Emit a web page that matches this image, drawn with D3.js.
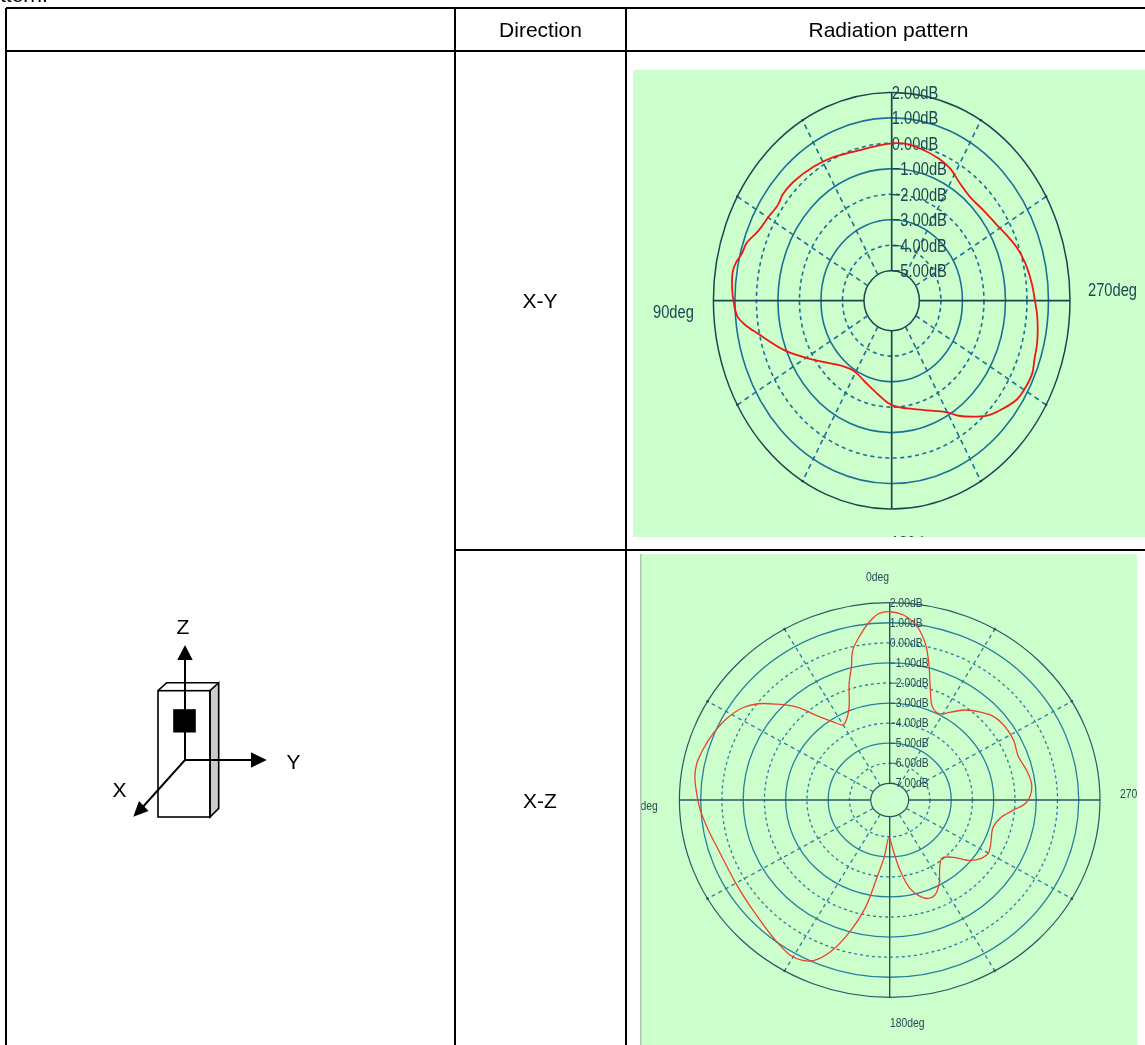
<!DOCTYPE html>
<html>
<head>
<meta charset="utf-8">
<style>
  html, body { margin: 0; background: #fff; }
  svg { display: block; font-family: "Liberation Sans", Arial, sans-serif; }
</style>
</head>
<body>
<div id="chart"></div>
<script src="https://cdn.jsdelivr.net/npm/d3@7"></script>
<script>
// Daten: Winkel in Grad, Pegel in dB
const xyAngles = [0,9,17,25,34,44,50,54,60,66,71,75,78,81,86,90,95,98,102,112,124,140,149,159,171,180,195,210,214,224,229,236,241,246,251,256,265,270,276,284,290,296,302,310,319,326,333,339,348,355];
const xyGains = [0,-0.08,-0.07,0.05,0.18,0.3,0.32,0.24,0.35,0.52,0.83,0.93,1.1,1.19,1.15,1.07,0.91,0.6,0.06,-0.95,-2,-2.81,-2.94,-2.78,-2.43,-2.08,-1.76,-1.12,-0.73,0.09,0.38,0.74,0.83,0.86,0.74,0.68,0.5,0.37,0.26,0.09,-0.09,-0.33,-0.54,-0.69,-0.76,-0.62,-0.34,-0.2,-0.06,0.02];
const xzAngles = [0,3,6,9,13,15,18,22,26,30,34,39,43,48,52,56,62,68,74,79,83,88,93,100,107,121,132,142,149,153,156,160,164,168,171,175,179,184,188,192,196,200,204,209,215,220,226,231,236,240,245,254,260,265,269,276,283,290,297,304,311,316,322,327,332,337,341,345,348,352,356];
const xzGains = [1.55,1.48,1.11,0.59,-0.17,-0.94,-1.72,-2.8,-3.3,-3.51,-3.13,-2.4,-1.5,-0.69,-0.04,0.41,0.8,1.05,1.25,1.37,1.34,1.19,1.04,0.77,0.55,0.47,0.62,0.94,1.19,1.14,0.93,0.2,-0.94,-2.31,-3.8,-5,-5.97,-5.25,-4.23,-3.33,-2.86,-2.61,-2.65,-3.09,-3.79,-4.06,-3.71,-3.05,-2.66,-2.53,-2.65,-2.84,-2.62,-2.05,-1.45,-1.17,-1.28,-1.46,-1.34,-1.33,-1.46,-1.74,-2.14,-2.61,-2.96,-2.77,-2.02,-0.78,0.15,0.98,1.41];
const xyTicks = [2,1,0,-1,-2,-3,-4,-5];
const xzTicks = [2,1,0,-1,-2,-3,-4,-5,-6,-7];
const solidTicks = [1,-1,-3,-5];
const spokeAngles = [30,60,120,150,210,240,300,330];

const width = 1145;
const height = 1045;
const svg = d3.select("#chart").append("svg")
    .attr("width", width)
    .attr("height", height);

const defs = svg.append("defs");
defs.append("filter").attr("id", "soft")
    .attr("x", 0).attr("y", 0).attr("width", 1).attr("height", 1)
    .append("feGaussianBlur").attr("stdDeviation", 0.35);

function drawPattern(cfg) {
    defs.append("clipPath").attr("id", cfg.id)
        .append("rect")
        .attr("x", cfg.panel[0]).attr("y", cfg.panel[1])
        .attr("width", cfg.panel[2]).attr("height", cfg.panel[3]);

    const outer = svg.append("g").attr("clip-path", `url(#${cfg.id})`);
    const root = outer.append("g").attr("filter", "url(#soft)");
    root.append("rect")
        .attr("x", cfg.panel[0]).attr("y", cfg.panel[1])
        .attr("width", cfg.panel[2]).attr("height", cfg.panel[3])
        .attr("fill", "#ccffcc");

    const [dMin, dMax] = d3.extent(cfg.ticks);
    const rx = d3.scaleLinear().domain([dMin, dMax]).range(cfg.rx);
    const ry = d3.scaleLinear().domain([dMin, dMax]).range(cfg.ry);
    const toRad = d3.scaleLinear().domain([0, 360]).range([0, 2 * Math.PI]);
    // 0 Grad oben, Winkel gegen den Uhrzeigersinn
    const px = (a, d) => cfg.cx - rx(d) * Math.sin(toRad(a));
    const py = (a, d) => cfg.cy - ry(d) * Math.cos(toRad(a));

    const g = root.append("g").attr("fill", "none");

    // Ringe
    g.selectAll("ellipse")
        .data(cfg.ticks)
        .join("ellipse")
        .attr("cx", cfg.cx).attr("cy", cfg.cy)
        .attr("rx", d => rx(d)).attr("ry", d => ry(d))
        .attr("stroke", d => (d === dMin || d === dMax) ? cfg.dark : cfg.blue)
        .attr("stroke-width", d => (d === dMin || d === dMax) ? cfg.edgeWidth : cfg.ringWidth)
        .attr("stroke-dasharray", d => (d === dMin || d === dMax || solidTicks.includes(d)) ? null : cfg.ringDash);

    // Speichen
    g.selectAll("line.spoke")
        .data(spokeAngles)
        .join("line")
        .attr("class", "spoke")
        .attr("x1", a => px(a, dMin)).attr("y1", a => py(a, dMin))
        .attr("x2", a => px(a, dMax)).attr("y2", a => py(a, dMax))
        .attr("stroke", cfg.blue)
        .attr("stroke-width", cfg.ringWidth)
        .attr("stroke-dasharray", cfg.spokeDash);
    g.selectAll("circle")
        .data(spokeAngles)
        .join("circle")
        .attr("cx", a => px(a, dMax)).attr("cy", a => py(a, dMax))
        .attr("r", 1.3)
        .attr("fill", cfg.dark);

    // Hauptachsen
    g.selectAll("line.axis")
        .data([0, 90, 180, 270])
        .join("line")
        .attr("class", "axis")
        .attr("x1", a => px(a, dMin)).attr("y1", a => py(a, dMin))
        .attr("x2", a => px(a, dMax)).attr("y2", a => py(a, dMax))
        .attr("stroke", cfg.dark)
        .attr("stroke-width", cfg.edgeWidth + 0.2);

    // Beschriftung der Ringe
    root.selectAll("text.tick")
        .data(cfg.ticks)
        .join("text")
        .attr("class", "tick")
        .attr("transform", d => `translate(${cfg.cx + cfg.tickDx},${cfg.cy - ry(d) + cfg.tickDy}) scale(1,${cfg.textScale})`)
        .attr("font-size", cfg.fontSize)
        .attr("fill", cfg.textColor)
        .text(d => d3.format(".2f")(d) + "dB");

    // Beschriftung der Winkel
    root.selectAll("text.angle")
        .data(cfg.angleLabels)
        .join("text")
        .attr("class", "angle")
        .attr("transform", d => `translate(${d.x},${d.y}) scale(1,${cfg.textScale})`)
        .attr("font-size", cfg.fontSize)
        .attr("fill", cfg.textColor)
        .text(d => d.text);

    // Richtcharakteristik
    const trace = d3.line()
        .x(d => px(d[0], d[1]))
        .y(d => py(d[0], d[1]))
        .curve(d3.curveCatmullRomClosed.alpha(0.5));
    root.append("path")
        .attr("d", trace(d3.zip(cfg.angles, cfg.gains)))
        .attr("fill", "none")
        .attr("stroke", cfg.red)
        .attr("stroke-width", cfg.traceWidth);
}

drawPattern({
    id: "clipXY", panel: [633, 70, 512, 467],
    cx: 891.7, cy: 300.7, rx: [27.7, 178.3], ry: [30, 208.3],
    ticks: xyTicks, angles: xyAngles, gains: xyGains,
    dark: "#1d4550", blue: "#1c6f96", red: "#f01818", textColor: "#1d4550",
    edgeWidth: 1.5, ringWidth: 1.6, traceWidth: 1.8, ringDash: "4,3.5", spokeDash: "5,4",
    fontSize: 14.7, textScale: 1.27,
    tickDx: 0, tickDy: 6.5,
    angleLabels: [
        { text: "90deg", x: 653, y: 318 },
        { text: "270deg", x: 1088, y: 296 },
        { text: "180deg", x: 891, y: 549 }
    ]
});

drawPattern({
    id: "clipXZ", panel: [641, 554, 496, 491],
    cx: 889.7, cy: 800, rx: [19, 210.3], ry: [16.7, 197.3],
    ticks: xzTicks, angles: xzAngles, gains: xzGains,
    dark: "#2a5560", blue: "#2a7f9f", red: "#ee4030", textColor: "#2a4a55",
    edgeWidth: 1.2, ringWidth: 1.3, traceWidth: 1.3, ringDash: "3,3", spokeDash: "4,3.5",
    fontSize: 10.4, textScale: 1.15,
    tickDx: 0, tickDy: 4,
    angleLabels: [
        { text: "0deg", x: 866, y: 581 },
        { text: "90deg", x: 629, y: 810 },
        { text: "270deg", x: 1120, y: 798 },
        { text: "180deg", x: 890, y: 1027 }
    ]
});

svg.append("rect")
    .attr("x", 640).attr("y", 554).attr("width", 1.5).attr("height", 491)
    .attr("fill", "#b8c4b8");

// Tabellenraster
const rules = svg.append("g").attr("stroke", "#000").attr("stroke-width", 2);
[[6, 8, 1145, 8], [6, 51, 1145, 51], [455, 550, 1145, 550],
 [6, 8, 6, 1045], [455, 8, 455, 1045], [626, 8, 626, 1045]].forEach(r => {
    rules.append("line")
        .attr("x1", r[0]).attr("y1", r[1])
        .attr("x2", r[2]).attr("y2", r[3]);
});

// Tabellentexte
const labels = svg.append("g").attr("font-size", 21).attr("fill", "#000");
labels.append("text").attr("x", 0).attr("y", 2).text("ttern.");
[["Direction", 540.5, 37], ["Radiation pattern", 888.5, 37], ["X-Y", 540, 308], ["X-Z", 540, 808]].forEach(t => {
    labels.append("text")
        .attr("x", t[1]).attr("y", t[2])
        .attr("text-anchor", "middle")
        .text(t[0]);
});

// Skizze des Gehäuses mit Achsen
const sketch = svg.append("g")
    .attr("fill", "none")
    .attr("stroke", "#000")
    .attr("stroke-width", 1.6);
sketch.append("path")
    .attr("d", "M210,690.7L218.7,682.7V808.3L210,817Z")
    .attr("fill", "#cccccc");
sketch.append("path").attr("d", "M158,690.7L166.7,682.7H218.7");
sketch.append("rect")
    .attr("x", 158).attr("y", 690.7)
    .attr("width", 52).attr("height", 126.3);
sketch.append("path")
    .attr("d", "M185,658V760H252M185,760L141,809")
    .attr("stroke-width", 2);
sketch.append("rect")
    .attr("x", 174).attr("y", 710)
    .attr("width", 21).attr("height", 21.7)
    .attr("fill", "#000");
const heads = svg.append("g").attr("fill", "#000");
heads.append("path").attr("d", "M185,645L192.7,660H177.3Z");
heads.append("path").attr("d", "M266.7,760L251,752.3V767.7Z");
heads.append("path").attr("d", "M133.3,816.7L139,801L148.5,811Z");
const axisLabels = svg.append("g")
    .attr("font-size", 21)
    .attr("text-anchor", "middle")
    .attr("fill", "#000");
[["Z", 183, 634], ["Y", 293.5, 769], ["X", 119.5, 797]].forEach(t => {
    axisLabels.append("text").attr("x", t[1]).attr("y", t[2]).text(t[0]);
});
</script>
</body>
</html>
